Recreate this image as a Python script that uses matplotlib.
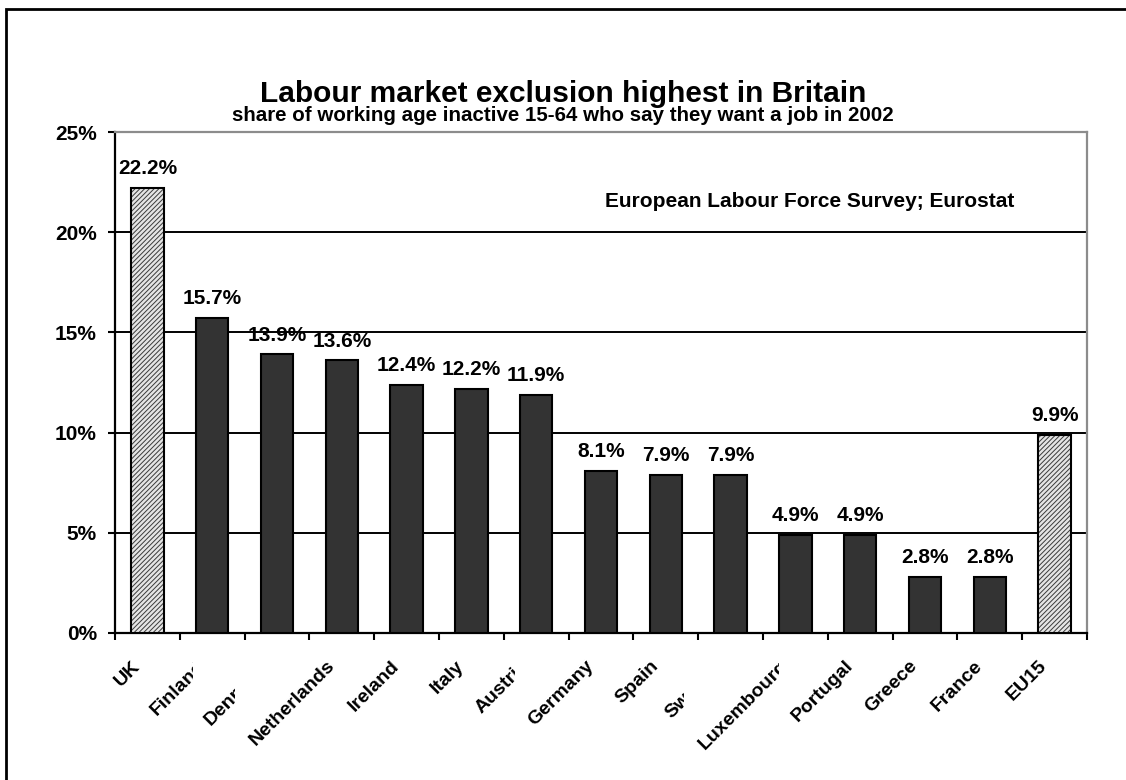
import numpy as np
import matplotlib.pyplot as plt
from matplotlib.patches import Rectangle
from matplotlib.transforms import Bbox, TransformedBbox, ScaledTranslation, blended_transform_factory

countries = ["UK", "Finland", "Denmark", "Netherlands", "Ireland", "Italy", "Austria",
             "Germany", "Spain", "Sweden", "Luxembourg", "Portugal", "Greece", "France", "EU15"]
shares = [22.2, 15.7, 13.9, 13.6, 12.4, 12.2, 11.9, 8.1, 7.9, 7.9, 4.9, 4.9, 2.8, 2.8, 9.9]
highlighted = ["UK", "EU15"]
y_ticks = [0, 5, 10, 15, 20, 25]

title = "Labour market exclusion highest in Britain"
subtitle = "share of working age inactive 15-64 who say they want a job in 2002"
source = "European Labour Force Survey; Eurostat"


def main():
    plt.rcParams['font.family'] = ['Liberation Sans', 'DejaVu Sans']
    plt.rcParams['font.weight'] = 'bold'
    plt.rcParams['hatch.linewidth'] = 0.7

    fig = plt.figure(figsize=(11.26, 7.8), dpi=100)
    ax = fig.add_axes([115 / 1126, 147 / 780, 972 / 1126, 501 / 780])

    xs = np.arange(len(countries))
    for x, name, val in zip(xs, countries, shares):
        if name in highlighted:
            ax.bar(x, val, width=0.5, facecolor='#e4e4e4', edgecolor='#3a3a3a',
                   hatch='///////', linewidth=0, zorder=3)
            ax.bar(x, val, width=0.5, fill=False, edgecolor='black', linewidth=1.5, zorder=4)
        else:
            ax.bar(x, val, width=0.5, color='#333333', edgecolor='black', linewidth=1.5, zorder=3)
        ax.annotate(f"{val:.1f}%", (x, val), xytext=(0, 10), textcoords='offset points',
                    ha='center', va='baseline', fontsize=15, fontweight='bold')

    ax.set_xlim(-0.5, len(countries) - 0.5)
    ax.set_ylim(0, 25)

    # category boundaries carry the tick marks, centres carry the labels
    ax.set_xticks(np.arange(-0.5, len(countries), 1))
    ax.set_xticklabels([])
    ax.set_xticks(xs, labels=countries, minor=True)
    ax.tick_params(axis='x', which='major', direction='out', length=5, width=1.5)
    ax.tick_params(axis='x', which='minor', length=0, pad=22, labelsize=14)
    shift = ScaledTranslation(-0.10, 0, fig.dpi_scale_trans)
    for lab in ax.xaxis.get_minorticklabels():
        lab.set_rotation(45)
        lab.set_ha('right')
        lab.set_va('center')
        lab.set_rotation_mode('anchor')
        lab.set_transform(lab.get_transform() + shift)

    # crowded labels are cut off like in the original
    cut = {"Finland": -0.29, "Denmark": -0.65, "Austria": -0.32, "Sweden": -0.72, "Luxembourg": -0.26}
    trans = blended_transform_factory(ax.transData, ax.transAxes)
    for lab in ax.xaxis.get_minorticklabels():
        name = lab.get_text()
        if name in cut:
            xc = countries.index(name) + cut[name]
            lab.set_clip_box(TransformedBbox(Bbox([[-1, -1], [xc, 1]]), trans))
            lab.set_clip_on(True)

    ax.set_yticks(y_ticks, labels=[f"{v}%" for v in y_ticks])
    ax.tick_params(axis='y', direction='out', length=5, width=1.5, pad=8, labelsize=15)

    ax.yaxis.grid(True, color='black', linewidth=1.4)
    ax.set_axisbelow(True)
    for side in ['left', 'bottom']:
        ax.spines[side].set_linewidth(1.6)
        ax.spines[side].set_color('black')
    for side in ['top', 'right']:
        ax.spines[side].set_linewidth(1.6)
        ax.spines[side].set_color('#8c8c8c')

    ax.text(0.504, 0.862, source, transform=ax.transAxes, fontsize=15,
            fontweight='bold', va='center', ha='left')

    fig.text(0.5, 1 - 102 / 780, title, ha='center', va='baseline', fontsize=21.5, fontweight='bold')
    fig.text(0.5, 1 - 121 / 780, subtitle, ha='center', va='baseline', fontsize=14.8, fontweight='bold')

    fig.patches.append(Rectangle((6 / 1126, -0.1), 1.2, 1.1 - 9 / 780, transform=fig.transFigure,
                                 fill=False, edgecolor='black', linewidth=2))

    fig.savefig('out.png', dpi=100)


if __name__ == "__main__":
    main()
